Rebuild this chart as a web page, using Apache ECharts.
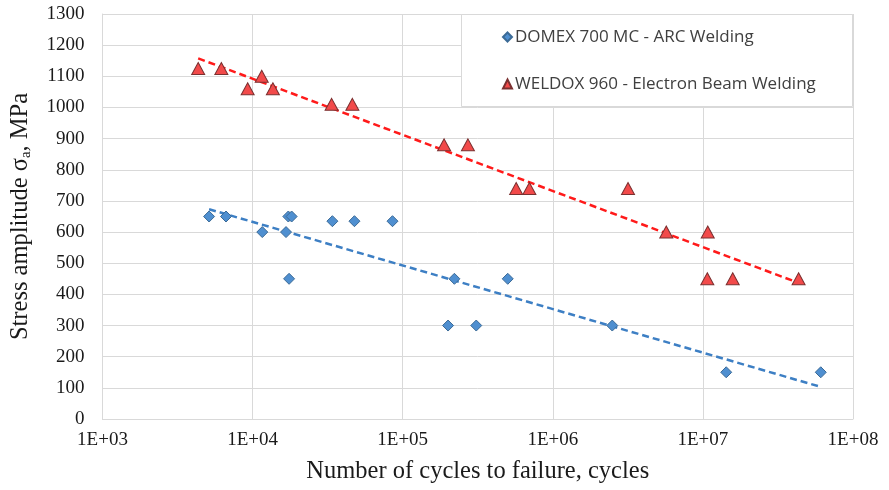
<!DOCTYPE html>
<html>
<head>
<meta charset="utf-8">
<script src="https://cdn.jsdelivr.net/npm/echarts@6/dist/echarts.min.js"></script>
<style>
    html, body {margin: 0; padding: 0; background: #fff;}
    #chart {width: 889px; height: 490px;}
</style>
</head>
<body>
<div id="chart"></div>
<script>
    // cycles to failure / stress amplitude (MPa)
    var domexCycles = [5130, 6650, 17300, 18200, 11600, 16700, 34000, 47700, 85500, 17500, 221000, 501000, 200500, 309000, 2490000, 14300000, 61000000];
    var domexStress = [650, 650, 650, 650, 600, 600, 635, 635, 635, 450, 450, 450, 300, 300, 300, 150, 150];
    var weldoxCycles = [4340, 6190, 11500, 9270, 13650, 33600, 46200, 188700, 272000, 570000, 698000, 3170000, 5700000, 10770000, 10700000, 15800000, 43400000];
    var weldoxStress = [1125, 1125, 1100, 1060, 1060, 1010, 1010, 880, 880, 740, 740, 740, 600, 600, 450, 450, 450];
    var xTicks = ['1E+03', '1E+04', '1E+05', '1E+06', '1E+07', '1E+08'];

    var serif = 'Liberation Serif';
    var sans = 'Open Sans';

    var pairs = function (xs, ys) {
        return xs.map(function (x, i) { return [x, ys[i]]; });
    };
    // Excel style logarithmic trendline: y = a*log10(x) + b, drawn from min x to max x
    var trend = function (xs, ys) {
        var n = xs.length, sx = 0, sy = 0, sxx = 0, sxy = 0;
        xs.forEach(function (x, i) {
            var lx = Math.log10(x);
            sx += lx; sy += ys[i]; sxx += lx * lx; sxy += lx * ys[i];
        });
        var a = (n * sxy - sx * sy) / (n * sxx - sx * sx);
        var b = (sy - a * sx) / n;
        var lo = Math.min.apply(null, xs), hi = Math.max.apply(null, xs);
        return [[lo, a * Math.log10(lo) + b], [hi, a * Math.log10(hi) + b]];
    };

    var chart = echarts.init(document.getElementById('chart'));
    var option = {
        animation: false,
        grid: {left: 100, right: 36, top: 14, bottom: 71},
        graphic: [{
            type: 'rect',
            left: 461, top: 14, z: 10,
            shape: {width: 391, height: 92},
            style: {fill: '#fff', stroke: '#d9d9d9', lineWidth: 1}
        }],
        legend: {
            data: ['DOMEX 700 MC - ARC Welding', 'WELDOX 960 - Electron Beam Welding'],
            orient: 'vertical',
            left: 497, top: 23, z: 20,
            itemWidth: 9, itemHeight: 9, itemGap: 29,
            textStyle: {fontFamily: sans, fontSize: 17, color: '#404040', lineHeight: 18, padding: [0, 0, 0, -2]}
        },
        xAxis: {
            type: 'log', logBase: 10, min: 1000, max: 100000000,
            name: 'Number of cycles to failure, cycles',
            nameLocation: 'middle', nameGap: 40,
            nameTextStyle: {fontFamily: serif, fontSize: 24.5, color: '#1a1a1a'},
            axisLine: {lineStyle: {color: '#d9d9d9'}},
            axisTick: {show: false},
            minorTick: {show: false},
            splitLine: {show: true, lineStyle: {color: '#d9d9d9'}},
            axisLabel: {
                fontFamily: serif, fontSize: 19, color: '#1a1a1a', margin: 12,
                formatter: function (v) { return xTicks[Math.round(Math.log10(v)) - 3]; }
            }
        },
        yAxis: {
            type: 'value', min: 0, max: 1300, interval: 100,
            name: 'Stress amplitude σ{sub|a}, MPa',
            nameLocation: 'middle', nameGap: 69,
            nameTextStyle: {
                fontFamily: serif, fontSize: 24.5, color: '#1a1a1a',
                rich: {sub: {fontFamily: serif, fontSize: 15, color: '#1a1a1a', verticalAlign: 'bottom', padding: [11, 0, 0, 0]}}
            },
            axisLine: {show: true, lineStyle: {color: '#d9d9d9'}},
            axisTick: {show: false},
            splitLine: {lineStyle: {color: '#d9d9d9'}},
            axisLabel: {
                fontFamily: serif, fontSize: 19, color: '#1a1a1a', margin: 18,
                formatter: function (v) { return String(v); }
            }
        },
        series: [{
            name: 'DOMEX 700 MC - ARC Welding',
            type: 'scatter',
            symbol: 'diamond', symbolSize: 11,
            itemStyle: {color: '#4f8fd0', borderColor: '#3b6a96', borderWidth: 1, opacity: 1},
            data: pairs(domexCycles, domexStress),
            z: 3
        }, {
            name: 'WELDOX 960 - Electron Beam Welding',
            type: 'scatter',
            symbol: 'triangle', symbolSize: [13, 12],
            itemStyle: {color: '#f24a4a', borderColor: '#7a3030', borderWidth: 1, opacity: 1},
            data: pairs(weldoxCycles, weldoxStress),
            z: 3
        }, {
            name: 'domex trend',
            type: 'line',
            symbol: 'none', silent: true,
            lineStyle: {color: '#3d7fc4', width: 2.5, type: [7, 4]},
            data: trend(domexCycles, domexStress),
            z: 2
        }, {
            name: 'weldox trend',
            type: 'line',
            symbol: 'none', silent: true,
            lineStyle: {color: '#ff1a1a', width: 2.5, type: [7, 4]},
            data: trend(weldoxCycles, weldoxStress),
            z: 2
        }]
    };
    chart.setOption(option);
</script>
</body>
</html>
